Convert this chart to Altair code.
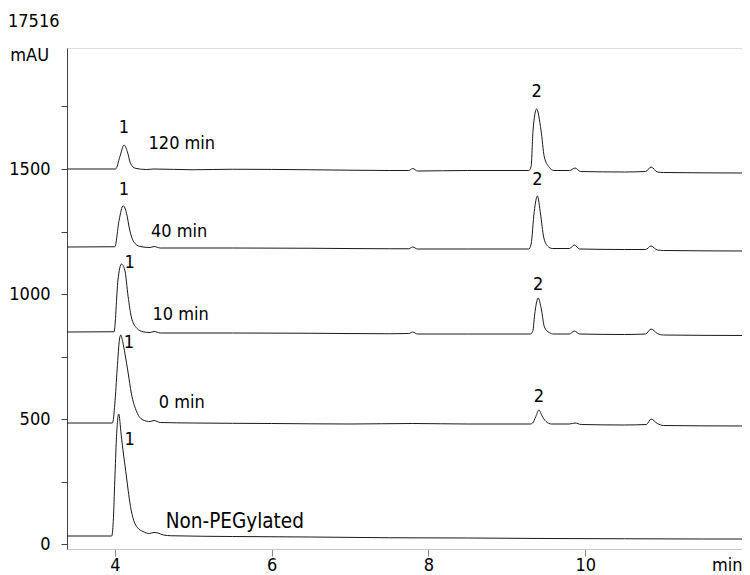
import altair as alt
import pandas as pd

FONT = "DejaVu Sans Condensed, DejaVu Sans"

# ---- trace data (retention time in min, absorbance in mAU, already offset) ----
nonpeg_t = [3.39, 3.96, 3.98, 4.00, 4.02, 4.05, 4.08, 4.11, 4.14, 4.17, 4.20, 4.24, 4.29, 4.36, 4.44,
            4.50, 4.55, 4.62, 4.72, 5.5, 6.5, 7.5, 8.5, 9.5, 10.5, 11.5, 12.03]
nonpeg_y = [32, 32, 90, 256, 420, 520, 440, 360, 290, 215, 150, 95, 65, 50, 42,
            46, 44, 36, 33, 30, 28, 25, 24, 22, 21, 20, 20]

min0_t = [3.39, 3.97, 4.00, 4.03, 4.06, 4.076, 4.10, 4.13, 4.17, 4.21, 4.28, 4.36, 4.45, 4.50, 4.58,
          5.0, 6.0, 7.0, 7.8, 8.5, 9.30, 9.33, 9.37, 9.41, 9.45, 9.50, 9.57, 9.80, 9.87, 9.95,
          10.5, 10.78, 10.84, 10.92, 11.0, 12.03]
min0_y = [484, 484, 560, 700, 820, 836, 810, 760, 684, 604, 528, 496, 490, 494, 486,
          484, 482, 480, 482, 480, 480, 484, 510, 536, 512, 490, 480, 480, 484, 478,
          476, 478, 500, 482, 474, 472]

min10_t = [3.39, 3.99, 4.04, 4.085, 4.127, 4.17, 4.21, 4.28, 4.36, 4.45, 4.50, 4.58,
           5.5, 6.5, 7.5, 7.75, 7.80, 7.86, 8.5, 9.30, 9.33, 9.36, 9.40, 9.44, 9.48, 9.54, 9.60,
           9.80, 9.86, 9.93, 10.5, 10.77, 10.84, 10.92, 11.0, 12.03]
min10_y = [848, 849, 1056, 1120, 1096, 989, 909, 863, 849, 846, 850, 844,
           844, 843, 841, 842, 848, 840, 840, 840, 850, 930, 984, 940, 868, 846, 840,
           840, 852, 840, 838, 840, 860, 842, 836, 834]

min40_t = [3.39, 4.00, 4.055, 4.106, 4.149, 4.19, 4.24, 4.32, 4.45, 4.50, 4.58,
           5.5, 6.5, 7.5, 7.75, 7.80, 7.86, 8.5, 9.28, 9.31, 9.35, 9.39, 9.43, 9.47, 9.52, 9.58,
           9.80, 9.86, 9.93, 10.5, 10.77, 10.84, 10.92, 11.0, 12.03]
min40_y = [1188, 1189, 1296, 1353, 1323, 1256, 1209, 1190, 1186, 1190, 1184,
           1184, 1183, 1181, 1181, 1188, 1180, 1180, 1180, 1200, 1330, 1392, 1320, 1228, 1192, 1182,
           1182, 1196, 1180, 1178, 1178, 1192, 1176, 1174, 1172]

min120_t = [3.39, 4.01, 4.064, 4.118, 4.16, 4.20, 4.26, 4.40, 4.50, 5.0, 5.5, 6.5, 7.5, 7.75, 7.80, 7.86,
            8.5, 9.28, 9.31, 9.335, 9.38, 9.436, 9.478, 9.541, 9.60, 9.80, 9.87, 9.94,
            10.5, 10.77, 10.84, 10.92, 11.0, 12.03]
min120_y = [1500, 1500, 1549, 1596, 1569, 1523, 1503, 1498, 1500, 1497, 1499, 1497, 1494, 1494, 1502, 1492,
            1494, 1494, 1510, 1656, 1740, 1656, 1549, 1507, 1494, 1494, 1504, 1490,
            1488, 1490, 1508, 1488, 1486, 1484]

# ---- annotations ----
peak_text = ["1", "1", "1", "1", "1", "2", "2", "2", "2"]
peak_t = [4.115, 4.115, 4.19, 4.18, 4.19, 9.38, 9.39, 9.40, 9.41]
peak_y = [1664, 1416, 1124, 804, 416, 1808, 1456, 1036, 588]

name_text = ["120 min", "40 min", "10 min", "0 min", "Non-PEGylated"]
name_t = [4.43, 4.46, 4.48, 4.56, 4.65]
name_y = [1600, 1248, 916, 564, 88]
name_size = [18, 18, 18, 18, 20.5]

traces = [
    ("Non-PEGylated", nonpeg_t, nonpeg_y),
    ("0 min", min0_t, min0_y),
    ("10 min", min10_t, min10_y),
    ("40 min", min40_t, min40_y),
    ("120 min", min120_t, min120_y),
]
rows = []
for name, ts, ys in traces:
    for tv, yv in zip(ts, ys):
        rows.append({"trace": name, "t": tv, "mAU": yv})
df = pd.DataFrame(rows)

peaks_df = pd.DataFrame({"label": peak_text, "t": peak_t, "mAU": peak_y})
names_df = pd.DataFrame({"label": name_text, "t": name_t, "mAU": name_y, "size": name_size})

xscale = alt.Scale(domain=[3.39, 12.0], nice=False, zero=False)
yscale = alt.Scale(domain=[-20, 1984], nice=False, zero=False)

x_axis = alt.Axis(
    values=[4, 6, 8, 10, 12],
    format="d",
    labelExpr="datum.value == 12 ? 'min' : datum.label",
    title=None, grid=False, domainColor="#c8c8c8", tickColor="#8a8a8a",
    tickSize=7, labelPadding=0, labelFontSize=18, labelFont=FONT,
    labelColor="#000000", labelFlush=5, labelOverlap=False,
)
y_axis = alt.Axis(
    values=[0, 250, 500, 750, 1000, 1250, 1500, 1750],
    labelExpr="datum.value % 500 == 0 ? datum.label : ''",
    format="d", title=None, grid=False, domainColor="#444444", tickColor="#444444",
    tickSize=6, labelPadding=11, labelFontSize=18, labelFont=FONT,
    labelColor="#000000", labelOverlap=False,
)

lines = alt.Chart(df).mark_line(
    color="#1a1a1a", strokeWidth=1, interpolate="monotone", clip=True
).encode(
    x=alt.X("t:Q", scale=xscale, axis=x_axis),
    y=alt.Y("mAU:Q", scale=yscale, axis=y_axis),
    detail="trace:N",
)

peaks = alt.Chart(peaks_df).mark_text(
    font=FONT, fontSize=18, color="#000000", align="center", baseline="middle"
).encode(
    x=alt.X("t:Q", scale=xscale), y=alt.Y("mAU:Q", scale=yscale), text="label:N"
)

names = alt.Chart(names_df).mark_text(
    font=FONT, color="#000000", align="left", baseline="middle"
).encode(
    x=alt.X("t:Q", scale=xscale), y=alt.Y("mAU:Q", scale=yscale), text="label:N",
    size=alt.Size("size:Q", scale=None, legend=None),
)

one = pd.DataFrame({"k": [0]})
unit = alt.Chart(one).mark_text(
    font=FONT, fontSize=18, color="#000000", align="right", baseline="middle"
).encode(x=alt.value(-18), y=alt.value(8), text=alt.value("mAU"))

code = alt.Chart(one).mark_text(
    font=FONT, fontSize=18, color="#000000", align="left", baseline="middle"
).encode(x=alt.value(-59), y=alt.value(-26), text=alt.value("17516"))

chart = alt.layer(lines, peaks, names, unit, code).properties(
    width=675, height=501,
    autosize=alt.AutoSizeParams(type="none"),
    padding={"left": 59, "top": 40, "right": 0, "bottom": 26},
).configure_view(stroke=None).configure(background="white")

chart.save("out.html", embed_options={"renderer": "svg", "actions": False})
